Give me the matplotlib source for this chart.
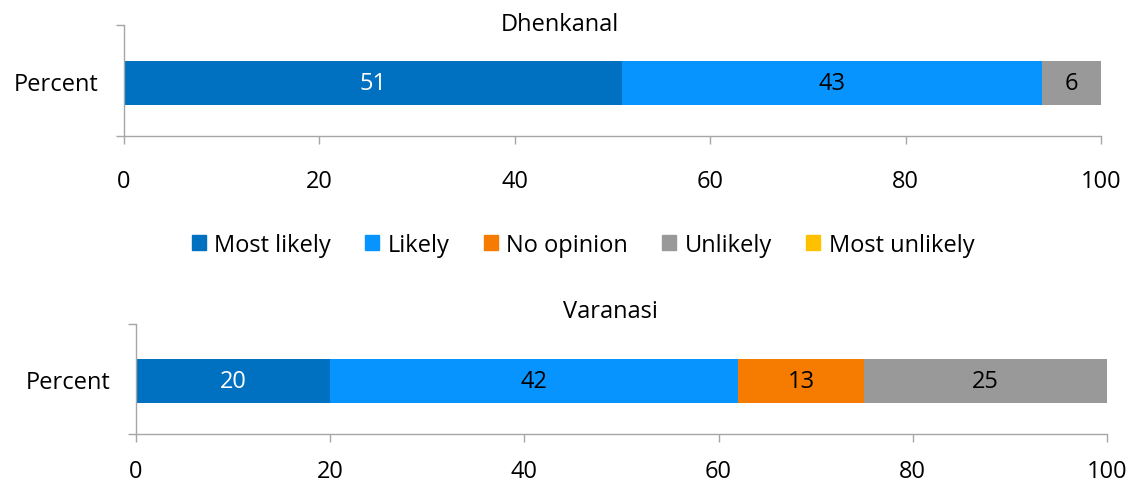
import matplotlib.pyplot as plt
import numpy as np

plt.rcParams["font.family"] = ["Open Sans", "DejaVu Sans"]

categories = ["Most likely", "Likely", "No opinion", "Unlikely", "Most unlikely"]
colors = ["#0070C0", "#0894FF", "#F57C00", "#999999", "#FFC000"]
label_colors = ["white", "black", "black", "black", "black"]

dhenkanal = [51, 43, 0, 6, 0]
varanasi = [20, 42, 13, 25, 0]
x_ticks = [0, 20, 40, 60, 80, 100]

fig = plt.figure(figsize=(11.31, 4.85), dpi=100)

ax_top = fig.add_axes([0.1096, 0.7175, 0.8638, 0.2289])
ax_bot = fig.add_axes([0.1202, 0.1031, 0.8585, 0.2268])

grey = "#A6A6A6"
fs = 17


def draw_panel(ax, values, xpad):
    left = 0
    for val, col, lcol in zip(values, colors, label_colors):
        ax.barh(-0.02, val, left=left, height=0.4, color=col, edgecolor="none")
        if val > 0:
            ax.text(left + val / 2, -0.02, f"{val}", ha="center", va="center",
                    fontsize=fs, color=lcol)
        left += val
    ax.set_xlim(0, 100)
    ax.set_ylim(-0.5, 0.5)
    ax.set_xticks(x_ticks)
    ax.set_xticklabels([str(t) for t in x_ticks], fontsize=fs)
    ax.set_yticks([-0.5, 0.5])
    ax.set_yticklabels(["", ""])
    ax.set_yticks([0], minor=True)
    ax.set_yticklabels(["Percent"], minor=True, fontsize=fs)
    ax.tick_params(axis="y", which="minor", length=0, pad=18)
    ax.tick_params(axis="y", which="major", length=6, color=grey, width=1)
    ax.tick_params(axis="x", length=6, color=grey, width=1, pad=xpad)
    for s in ["top", "right"]:
        ax.spines[s].set_visible(False)
    for s in ["left", "bottom"]:
        ax.spines[s].set_color(grey)
        ax.spines[s].set_linewidth(1)


draw_panel(ax_top, dhenkanal, 18)
draw_panel(ax_bot, varanasi, 12)

fig.text(560 / 1131, 1 - 25 / 485, "Dhenkanal", ha="center", va="center", fontsize=fs)
fig.text(610 / 1131, 1 - 312 / 485, "Varanasi", ha="center", va="center", fontsize=fs)

handles = [plt.Rectangle((0, 0), 1, 1, color=c) for c in colors]
fig.legend(handles, categories, loc="center", bbox_to_anchor=(583 / 1131, 1 - 246 / 485),
           ncol=5, frameon=False, fontsize=fs, handlelength=0.6, handleheight=0.6,
           handletextpad=0.35, columnspacing=1.45)

fig.savefig("out.png", dpi=100)
